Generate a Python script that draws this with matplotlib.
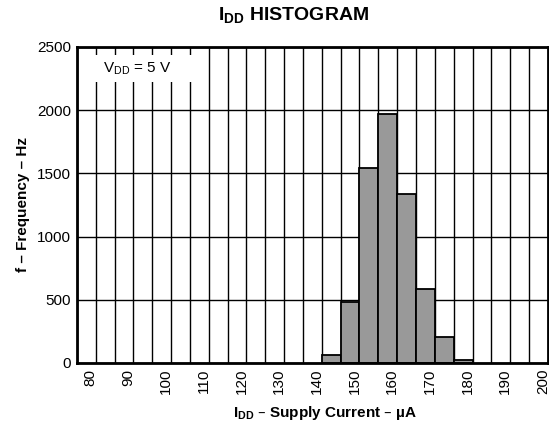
import matplotlib
matplotlib.use("Agg")
import matplotlib.pyplot as plt
import matplotlib.transforms as mtransforms
from matplotlib.patches import Rectangle
import numpy as np

plt.rcParams['font.family'] = ['Liberation Sans', 'DejaVu Sans']

# histogram bins (uA) and counts
bin_left = [140, 145, 150, 155, 160, 165, 170, 175]
counts = [60, 480, 1540, 1970, 1340, 585, 205, 20]
bin_width = 5
x_ticks = list(range(80, 201, 10))
y_ticks = [0, 500, 1000, 1500, 2000, 2500]

fig = plt.figure(figsize=(5.49, 4.26), dpi=100)
ax = fig.add_axes([0.140, 0.148, 0.858, 0.742])

ax.bar(bin_left, counts, width=bin_width, align="edge", color="#999999",
       edgecolor="black", linewidth=1.3, zorder=3)

ax.set_xlim(75, 200)
ax.set_ylim(0, 2500)
ax.set_xticks(x_ticks)
ax.set_xticks(np.arange(75, 201, 5), minor=True)
ax.set_yticks(y_ticks)
ax.set_xticklabels([str(v) for v in x_ticks], rotation=90, fontsize=11)
ax.set_yticklabels([str(v) for v in y_ticks], fontsize=11)
ax.tick_params(which="both", length=0, pad=4)
shift = mtransforms.ScaledTranslation(-5 / 100, 0, fig.dpi_scale_trans)
for lbl in ax.get_xticklabels():
    lbl.set_transform(lbl.get_transform() + shift)
ax.grid(True, which="both", axis="x", color="black", linewidth=1.0, zorder=1)
ax.grid(True, which="major", axis="y", color="black", linewidth=1.0, zorder=1)
ax.set_axisbelow(True)
for s in ax.spines.values():
    s.set_linewidth(2)
    s.set_zorder(4)

# white box behind the condition label
ax.add_patch(Rectangle((0.004, 0.889), 0.253, 0.086, transform=ax.transAxes,
                       facecolor="white", edgecolor="none", zorder=2))
ax.text(0.055, 0.93, r"V$_\mathregular{DD}$ = 5 V", transform=ax.transAxes,
        fontsize=11, va="center", ha="left", zorder=5)

ax.set_xlabel(r"I$_\mathregular{DD}$ – Supply Current – µA", fontsize=11,
              fontweight="bold", va="center")
ax.xaxis.set_label_coords(0.527, -0.158)
ax.set_ylabel("f – Frequency – Hz", fontsize=11, fontweight="bold", labelpad=5)

fig.text(0.534, 0.962, r"I$_\mathregular{DD}$ HISTOGRAM", fontsize=14,
         fontweight="bold", ha="center", va="center")

fig.savefig("out.png", dpi=100)
